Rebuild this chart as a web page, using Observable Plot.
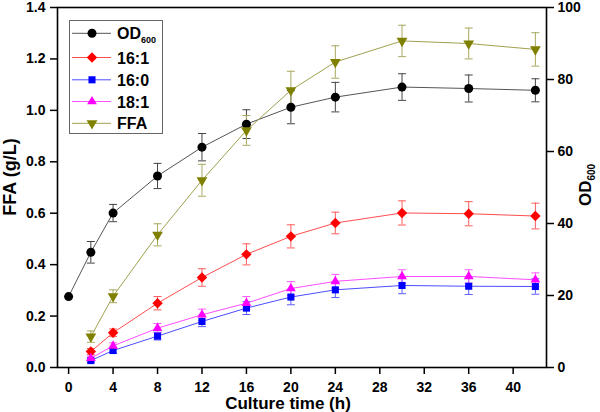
<!DOCTYPE html>
<html><head><meta charset="utf-8">
<script src="https://cdn.jsdelivr.net/npm/d3@7"></script>
<script src="https://cdn.jsdelivr.net/npm/@observablehq/plot@0.6"></script>
<style>body{margin:0;background:#fff} #chart{width:600px;height:412px}</style>
</head><body><div id="chart"></div>
<script>
// ---- data ----
const odTimes = [0, 2, 4, 8, 12, 16, 20, 24, 30, 36, 42];
const od600 = [19.7, 32.0, 42.9, 53.2, 61.2, 67.6, 72.3, 75.1, 77.9, 77.5, 77.0];
const od600Err = [0, 3.0, 2.4, 3.5, 3.8, 4.0, 4.6, 4.1, 3.7, 3.75, 3.2];
const acidTimes = [2, 4, 8, 12, 16, 20, 24, 30, 36, 42];
const c161 = [0.062, 0.135, 0.250, 0.350, 0.440, 0.510, 0.562, 0.601, 0.598, 0.589];
const c161Err = [0.012, 0.015, 0.026, 0.034, 0.041, 0.045, 0.042, 0.047, 0.047, 0.050];
const c160 = [0.027, 0.066, 0.122, 0.179, 0.231, 0.274, 0.302, 0.319, 0.316, 0.315];
const c160Err = [0.006, 0.010, 0.015, 0.020, 0.025, 0.030, 0.030, 0.032, 0.032, 0.030];
const c181 = [0.036, 0.084, 0.153, 0.205, 0.250, 0.307, 0.335, 0.354, 0.354, 0.341];
const c181Err = [0.008, 0.012, 0.018, 0.022, 0.026, 0.027, 0.027, 0.026, 0.026, 0.027];
const ffa = [0.120, 0.277, 0.516, 0.728, 0.922, 1.078, 1.188, 1.270, 1.260, 1.237];
const ffaErr = [0.022, 0.025, 0.043, 0.062, 0.058, 0.074, 0.063, 0.061, 0.060, 0.065];
const xTicks = [0, 4, 8, 12, 16, 20, 24, 28, 32, 36, 40];
const yTicks = [0, 0.2, 0.4, 0.6, 0.8, 1.0, 1.2, 1.4];
const odTicks = [0, 20, 40, 60, 80, 100];
const ffaMax = 1.4, odMax = 100;
const toLeft = v => v * ffaMax / odMax;

// ---- symbols ----
const downTriangle = {draw(ctx, size) {
  const y = Math.sqrt(size / (3 * Math.sqrt(3)));
  ctx.moveTo(0, 2 * y); ctx.lineTo(-Math.sqrt(3) * y, -y); ctx.lineTo(Math.sqrt(3) * y, -y); ctx.closePath();
}};
const cap = {draw(ctx) { ctx.moveTo(-4, 0); ctx.lineTo(4, 0); }};

const series = [
  {name: "OD600", t: odTimes, v: od600.map(toLeft), e: od600Err.map(toLeft), fill: "#000", line: "#555", bar: "#444", symbol: "circle", r: 4.5},
  {name: "16:1", t: acidTimes, v: c161, e: c161Err, fill: "#ff0000", line: "#ff4d4d", bar: "#ff5c5c", symbol: "diamond2", r: 4.7},
  {name: "16:0", t: acidTimes, v: c160, e: c160Err, fill: "#0000ff", line: "#4d4dff", bar: "#5c5cff", symbol: "square", r: 4.0},
  {name: "18:1", t: acidTimes, v: c181, e: c181Err, fill: "#ff00ff", line: "#ff4dff", bar: "#ff5cff", symbol: "triangle", r: 3.6},
  {name: "FFA", t: acidTimes, v: ffa, e: ffaErr, fill: "#808000", line: "#a0a050", bar: "#a8a860", symbol: downTriangle, r: 4.0}
];
series.forEach(s => s.rows = s.t.map((t, i) => ({t, v: s.v[i], e: s.e[i]})));

const lineMarks = series.map(s => Plot.line(s.rows, {x: "t", y: "v", stroke: s.line, strokeWidth: 1}));
const barMarks = series.flatMap(s => {
  const rows = s.rows.filter(d => d.e > 0);
  return [
    Plot.ruleX(rows, {x: "t", y1: d => d.v - d.e, y2: d => d.v + d.e, stroke: s.bar, strokeWidth: 1}),
    Plot.dot(rows, {x: "t", y: d => d.v + d.e, symbol: cap, stroke: s.bar, fill: "none", strokeWidth: 1}),
    Plot.dot(rows, {x: "t", y: d => d.v - d.e, symbol: cap, stroke: s.bar, fill: "none", strokeWidth: 1})
  ];
});
const dotMarks = series.map(s => Plot.dot(s.rows, {x: "t", y: "v", symbol: s.symbol, r: s.r, fill: s.fill, stroke: "none"}));

const chart = Plot.plot({
  width: 600, height: 412,
  marginLeft: 57, marginRight: 54, marginTop: 7, marginBottom: 45,
  x: {domain: [-1, 43]},
  y: {domain: [0, 1.4]},
  style: {fontFamily: "'Liberation Sans', Arial, sans-serif", fontSize: "14px", fontWeight: "bold", color: "#000", background: "#fff"},
  marks: [
    ...lineMarks,
    ...barMarks,
    ...dotMarks,
    Plot.frame({stroke: "#000", strokeWidth: 1.6}),
    Plot.axisX({ticks: xTicks, tickSize: 7, tickPadding: 8, label: null, strokeWidth: 1.5, fontSize: 14, fontWeight: "bold"}),
    Plot.axisY({ticks: yTicks, tickFormat: d => d.toFixed(1), tickSize: 7, tickPadding: 5, label: null, strokeWidth: 1.5, fontSize: 14, fontWeight: "bold"}),
    Plot.axisY({anchor: "right", ticks: odTicks.map(toLeft), tickFormat: d => String(Math.round(d * odMax / ffaMax)), tickSize: 7, tickPadding: 4, label: null, strokeWidth: 1.5, fontSize: 14, fontWeight: "bold"})
  ]
});

const svg = d3.select(chart);
const font = "'Liberation Sans', Arial, sans-serif";
// axis titles
svg.append("text").attr("x", 288).attr("y", 409).attr("text-anchor", "middle")
  .attr("font-family", font).attr("font-size", 17).attr("font-weight", "bold").text("Culture time (h)");
svg.append("text").attr("transform", "translate(16,177) rotate(-90)").attr("text-anchor", "middle")
  .attr("font-family", font).attr("font-size", 18).attr("font-weight", "bold").text("FFA (g/L)");
const odT = svg.append("text").attr("transform", "translate(591,185) rotate(-90)").attr("text-anchor", "middle")
  .attr("font-family", font).attr("font-size", 17).attr("font-weight", "bold");
odT.append("tspan").text("OD");
odT.append("tspan").attr("font-size", 10).attr("dy", 4).text("600");

// legend
const lg = svg.append("g");
lg.append("rect").attr("x", 69.5).attr("y", 20.5).attr("width", 93).attr("height", 113)
  .attr("fill", "#fff").attr("stroke", "#666").attr("stroke-width", 1);
const legendY = [33.3, 57.5, 79.8, 101.5, 123.3];
series.forEach((s, i) => {
  const y = legendY[i];
  lg.append("line").attr("x1", 72).attr("x2", 111).attr("y1", y).attr("y2", y).attr("stroke", s.line).attr("stroke-width", 1);
  const symType = typeof s.symbol === "string" ? {circle: d3.symbolCircle, diamond2: d3.symbolDiamond2, square: d3.symbolSquare, triangle: d3.symbolTriangle}[s.symbol] : s.symbol;
  lg.append("path").attr("transform", `translate(92,${y})`).attr("d", d3.symbol(symType, Math.PI * s.r * s.r)()).attr("fill", s.fill);
  const t = lg.append("text").attr("x", 117).attr("y", y + 6).attr("text-anchor", "start")
    .attr("font-family", font).attr("font-size", 16).attr("font-weight", "bold");
  if (s.name === "OD600") { t.append("tspan").text("OD"); t.append("tspan").attr("font-size", 9).attr("dy", 4).text("600"); }
  else t.text(s.name);
});

document.getElementById("chart").appendChild(chart);
</script>
</body></html>
